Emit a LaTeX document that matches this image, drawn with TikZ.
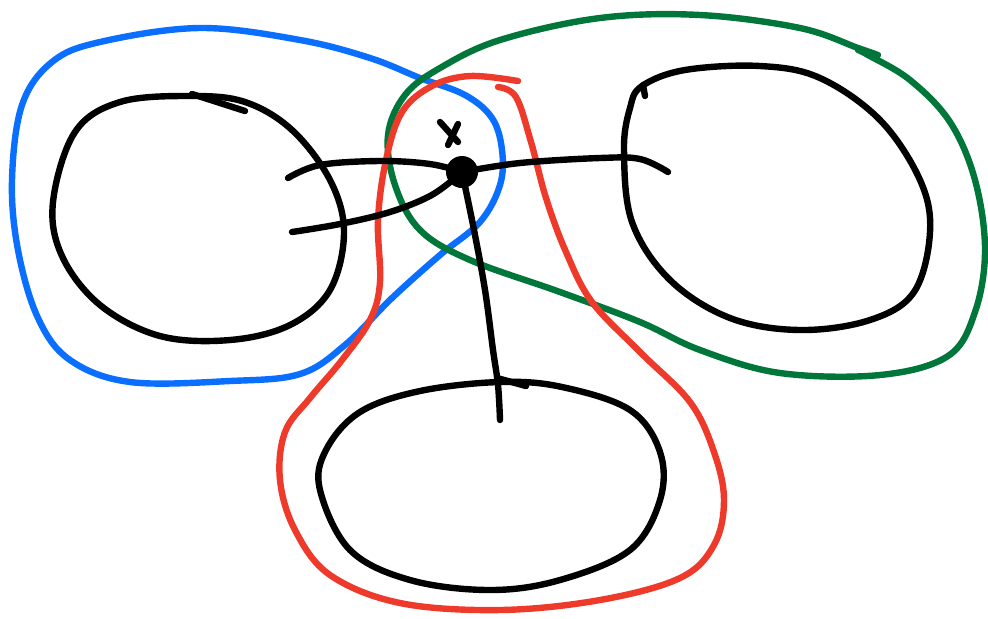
\documentclass[tikz,border=0pt]{standalone}
\begin{document}
\begin{tikzpicture}[x=0.5pt,y=-0.5pt,
  pen/.style={line width=3.2pt,line cap=round,line join=round},
  blk/.style={pen,black},
  blu/.style={pen,color={rgb,255:red,10;green,110;blue,255}},
  grn/.style={pen,color={rgb,255:red,0;green,118;blue,58}},
  rd/.style={pen,color={rgb,255:red,238;green,58;blue,42}}]
\useasboundingbox (0,0) rectangle (988,618);
% blue loop
\draw[blu] plot[smooth cycle,tension=0.6] coordinates {(100,42) (200,28) (300,40) (370,58) (420,78) (465,95) (492,118) (502,150) (500,185) (480,222) (440,255) (392,298) (345,345) (300,374) (230,381) (130,382) (70,360) (38,318) (18,250) (12,180) (22,105) (52,62)};
% green loop
\draw[grn] plot[smooth,tension=0.6] coordinates {(878,55) (858,48) (800,28) (700,15) (600,18) (500,40) (440,68) (405,95) (388,135) (395,185) (420,230) (470,260) (560,292) (640,322) (700,350) (780,373) (880,375) (948,356) (975,312) (985,250) (975,180) (950,122) (910,80) (868,55) (858,50)};
% red loop
\draw[rd] plot[smooth,tension=0.6] coordinates {(518,81) (470,76) (432,86) (402,112) (386,160) (378,220) (380,282) (370,320) (342,360) (310,398) (285,432) (280,480) (295,530) (330,575) (400,603) (500,610) (600,600) (680,578) (714,545) (724,500) (714,452) (690,402) (640,352) (592,302) (566,252) (546,198) (531,142) (516,97) (498,87)};
% left ellipse
\draw[blk] plot[smooth cycle,tension=0.6] coordinates {(190,96) (245,102) (292,130) (330,180) (344,232) (330,290) (290,325) (230,340) (160,336) (100,305) (62,256) (53,202) (75,132) (120,102)};
\draw[blk] (192,94) -- (245,111);
% right ellipse
\draw[blk] plot[smooth cycle,tension=0.6] coordinates {(642,86) (685,70) (760,66) (820,78) (880,120) (920,180) (930,232) (914,292) (870,320) (800,330) (730,318) (670,280) (632,222) (624,150) (630,108)};
\draw[blk] (643,85) -- (645,96);
% bottom ellipse
\draw[blk] plot[smooth cycle,tension=0.6] coordinates {(500,382) (562,387) (630,410) (660,452) (660,500) (630,550) (560,580) (490,590) (410,580) (350,550) (320,490) (326,450) (360,412) (420,391)};
\draw[blk] (497,378) -- (526,386);
% center point and lines
\node[circle,fill=black,inner sep=0pt,minimum size=16pt] (p) at (462,172) {};
\draw[blk] plot[smooth,tension=0.6] coordinates {(288,178) (320,165) (380,161) (430,164) (462,172)};
\draw[blk] plot[smooth,tension=0.6] coordinates {(462,172) (520,163) (600,158) (640,159) (668,172)};
\draw[blk] plot[smooth,tension=0.6] coordinates {(292,232) (340,224) (390,212) (430,196) (455,178)};
\draw[blk] plot[smooth,tension=0.6] coordinates {(462,172) (474,230) (485,290) (493,350) (498,385) (500,420)};
% X
\draw[blk] (440,122) -- (458,142);
\draw[blk] (458,124) -- (448,145);
\end{tikzpicture}
\end{document}
